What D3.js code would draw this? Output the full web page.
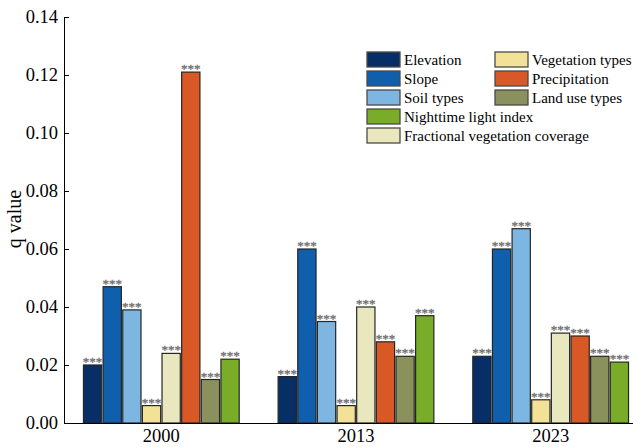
<!DOCTYPE html>
<html>
<head>
<meta charset="utf-8">
<script src="https://cdn.jsdelivr.net/npm/d3@7"></script>
<style>
  html, body { margin: 0; padding: 0; background: #fff; }
  svg { display: block; }
  svg text { font-family: "Liberation Serif", "Times New Roman", Times, serif !important; }
</style>
</head>
<body>
<svg id="chart" width="633" height="447"></svg>
<script>
// Years on the x axis
const years = ["2000", "2013", "2023"];

// Driving factors, in bar order within each year
const factors = [
  "Elevation", "Slope", "Soil types", "Vegetation types",
  "Fractional vegetation coverage", "Precipitation", "Land use types",
  "Nighttime light index"
];

// q values per factor, one entry per year
const elevation    = [0.020, 0.016, 0.023];
const slope        = [0.047, 0.060, 0.060];
const soilTypes    = [0.039, 0.035, 0.067];
const vegTypes     = [0.006, 0.006, 0.008];
const fvc          = [0.024, 0.040, 0.031];
const precipitation= [0.121, 0.028, 0.030];
const landUse      = [0.015, 0.023, 0.023];
const nightLight   = [0.022, 0.037, 0.021];

// Significance marks shown above every bar
const significance = "***";

// Y axis ticks
const yTicks = [0, 0.02, 0.04, 0.06, 0.08, 0.10, 0.12, 0.14];

const seriesValues = [elevation, slope, soilTypes, vegTypes, fvc, precipitation, landUse, nightLight];

const colors = {
  "Elevation": "#072f66",
  "Slope": "#0f5fad",
  "Soil types": "#7db6e1",
  "Vegetation types": "#f2e196",
  "Fractional vegetation coverage": "#e9e7bd",
  "Precipitation": "#d95926",
  "Land use types": "#8a915d",
  "Nighttime light index": "#78ac29"
};

const FONT = "Liberation Serif";
const svg = d3.select("#chart").attr("font-family", FONT);
const x0 = d3.scaleBand().domain(years).range([64, 648]).paddingInner(0.2).paddingOuter(0.1);
const x1 = d3.scaleBand().domain(factors).range([0, x0.bandwidth()]).paddingInner(0.07);
const y = d3.scaleLinear().domain([0, 0.14]).range([423, 17]);

const rows = years.map((yr, i) => ({
  year: yr,
  bars: factors.map((f, j) => ({ factor: f, value: seriesValues[j][i] }))
}));

// Bars
const groups = svg.append("g").selectAll("g").data(rows).join("g")
  .attr("transform", d => `translate(${x0(d.year)},0)`);

groups.selectAll("rect").data(d => d.bars).join("rect")
  .attr("x", d => x1(d.factor))
  .attr("y", d => y(d.value))
  .attr("width", x1.bandwidth())
  .attr("height", d => y(0) - y(d.value))
  .attr("fill", d => colors[d.factor])
  .attr("stroke", "#262626")
  .attr("stroke-width", 1.2);

groups.selectAll("text").data(d => d.bars).join("text")
  .attr("x", d => x1(d.factor) + x1.bandwidth() / 2)
  .attr("y", d => y(d.value) + 1)
  .attr("text-anchor", "middle")
  .attr("font-family", FONT)
  .attr("font-size", 13)
  .attr("fill", "#707070")
  .attr("stroke", "#707070")
  .attr("stroke-width", 0.35)
  .text(significance);

// Y axis with inward ticks
const yAxis = svg.append("g")
  .attr("transform", "translate(64,0)")
  .call(d3.axisLeft(y).tickValues(yTicks).tickFormat(d3.format(".2f"))
    .tickSizeInner(-5).tickSizeOuter(0).tickPadding(6));
yAxis.attr("font-family", FONT);
yAxis.selectAll("text").attr("font-size", 18.5).attr("fill", "#000");
yAxis.selectAll("line").attr("stroke", "#000");
yAxis.select(".domain").attr("stroke", "#000");

// X axis
const xAxis = svg.append("g")
  .attr("transform", `translate(0,${y(0)})`)
  .call(d3.axisBottom(x0).tickSize(0).tickPadding(6));
xAxis.attr("font-family", FONT);
xAxis.selectAll("text").attr("font-size", 18.5).attr("fill", "#000");
xAxis.select(".domain").attr("stroke", "#000");

// Y axis title
svg.append("text")
  .attr("transform", "translate(21,219) rotate(-90)")
  .attr("text-anchor", "middle")
  .attr("font-family", FONT)
  .attr("font-size", 20)
  .text("q value");

// Legend: two columns
const legendCols = [
  { x: 367, items: ["Elevation", "Slope", "Soil types", "Nighttime light index", "Fractional vegetation coverage"] },
  { x: 495, items: ["Vegetation types", "Precipitation", "Land use types"] }
];
const legend = svg.append("g");
legendCols.forEach(col => {
  const g = legend.append("g").selectAll("g").data(col.items).join("g")
    .attr("transform", (d, i) => `translate(${col.x},${52 + i * 19})`);
  g.append("rect")
    .attr("width", 33).attr("height", 15)
    .attr("fill", d => colors[d])
    .attr("stroke", "#4a4a4a").attr("stroke-width", 1.3);
  g.append("text")
    .attr("x", 37).attr("y", 13)
    .attr("font-family", FONT)
    .attr("font-size", 15)
    .text(d => d);
});
</script>
</body>
</html>
